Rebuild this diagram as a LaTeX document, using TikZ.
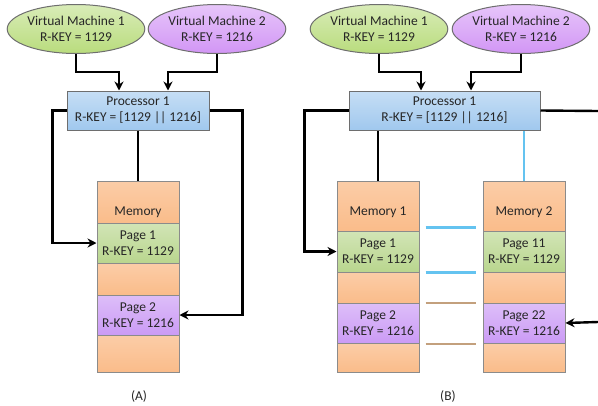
\documentclass[tikz,border=0pt]{standalone}
\usepackage{fontspec}
\setmainfont{Carlito}
\usepackage{tikz}
\usetikzlibrary{arrows.meta, positioning, shapes.geometric}
\usepackage{xcolor}

\definecolor{vmgreen}{RGB}{185,220,125}
\definecolor{vmpurple}{RGB}{210,150,245}
\definecolor{procblue}{RGB}{160,200,238}
\definecolor{memorange}{RGB}{250,188,138}
\definecolor{pagegreen}{RGB}{185,214,142}
\definecolor{pagepurple}{RGB}{203,155,245}
\definecolor{linkblue}{RGB}{100,195,240}
\definecolor{linkbrown}{RGB}{195,160,125}
\definecolor{edgegray}{RGB}{110,110,110}

\begin{document}
\begin{tikzpicture}[
    x=1pt, y=-1pt,
    >={Stealth[length=9pt,width=9pt]},
    every node/.style={font=\fontsize{13.5}{16}\selectfont, align=center, text=black!85},
    vmnode/.style={ellipse, draw=edgegray, line width=1pt, inner sep=0pt,
        minimum width=125pt, minimum height=49pt},
    procnode/.style={rectangle, draw=edgegray, line width=1pt, inner sep=0pt,
        top color=procblue!60!white, bottom color=procblue, minimum height=39pt},
    memcell/.style={rectangle, draw=edgegray!80, line width=1pt, inner sep=0pt,
        top color=memorange!75!white, bottom color=memorange, minimum width=82pt},
    pagecell/.style={memcell, minimum height=40pt},
    conn/.style={line width=2.4pt, black},
]
\useasboundingbox (0,0) rectangle (598,405);
% Panel (A)
\node[vmnode, top color=vmgreen!55!white, bottom color=vmgreen] (vmA1) at (76,29) {Virtual Machine 1\\R-KEY = 1129};
\node[vmnode, top color=vmpurple!55!white, bottom color=vmpurple] (vmA2) at (217,29) {Virtual Machine 2\\R-KEY = 1216};
\node[procnode, minimum width=142pt] (procA) at (138,110.5) {Processor 1\\R-KEY = [1129 || 1216]};
\node[memcell, minimum height=42pt, text height=29pt] (memA) at (138,202) {Memory};
\node[pagecell, top color=pagegreen!65!white, bottom color=pagegreen] (pgA1) at (138,243) {Page 1\\R-KEY = 1129};
\node[memcell, minimum height=32pt] (gapA1) at (138,279) {};
\node[pagecell, top color=pagepurple!65!white, bottom color=pagepurple] (pgA2) at (138,315) {Page 2\\R-KEY = 1216};
\node[memcell, minimum height=37pt] (gapA2) at (138,353.5) {};
\node (capA) at (139,396) {(A)};
% Arrows (A)
\draw[conn,->] (vmA1.south) -- ++(0,18) -| ([xshift=-19pt]procA.north);
\draw[conn,->] (vmA2.south) -- ++(0,18) -| ([xshift=30pt]procA.north);
\draw[conn,->] (procA.west) -- ++(-14,0) |- (pgA1.west);
\draw[conn] (procA.south) -- (memA.north);
\draw[conn,->] (procA.east) -- ++(33,0) |- (pgA2.east);

% Panel (B)
\node[vmnode, minimum width=128pt, top color=vmgreen!55!white, bottom color=vmgreen] (vmB1) at (379,29) {Virtual Machine 1\\R-KEY = 1129};
\node[vmnode, minimum width=130pt, top color=vmpurple!55!white, bottom color=vmpurple] (vmB2) at (521,29) {Virtual Machine 2\\R-KEY = 1216};
\node[procnode, minimum width=191pt] (procB) at (444.5,110.5) {Processor 1\\R-KEY = [1129 || 1216]};
\node[memcell, minimum height=50pt, text height=21pt] (memB1) at (378,206) {Memory 1};
\node[pagecell, minimum height=41pt, top color=pagegreen!65!white, bottom color=pagegreen] (pgB1) at (378,251.5) {Page 1\\R-KEY = 1129};
\node[memcell, minimum height=31pt] (gapB1) at (378,287.5) {};
\node[pagecell, top color=pagepurple!65!white, bottom color=pagepurple] (pgB2) at (378,323) {Page 2\\R-KEY = 1216};
\node[memcell, minimum height=29pt] (gapB2) at (378,357.5) {};
\node[memcell, minimum height=50pt, text height=21pt] (memB2) at (524,206) {Memory 2};
\node[pagecell, minimum height=41pt, top color=pagegreen!65!white, bottom color=pagegreen] (pgB11) at (524,251.5) {Page 11\\R-KEY = 1129};
\node[memcell, minimum height=31pt] (gapB11) at (524,287.5) {};
\node[pagecell, top color=pagepurple!65!white, bottom color=pagepurple] (pgB22) at (524,323) {Page 22\\R-KEY = 1216};
\node[memcell, minimum height=29pt] (gapB22) at (524,357.5) {};
\node (capB) at (448,396) {(B)};
\coordinate (outB) at (598,111);
\coordinate (inB) at (598,322);
% Arrows (B)
\draw[conn,->] (vmB1.south) -- ++(0,18) -| ([xshift=-23.5pt]procB.north);
\draw[conn,->] (vmB2.south) -- ++(0,18) -| ([xshift=26.5pt]procB.north);
\draw[conn,->] (procB.west) -- ++(-44,0) |- (pgB1.west);
\draw[conn] (memB1.north) -- (memB1.north |- procB.south);
\draw[linkblue, line width=1.6pt] (memB2.north) -- (memB2.north |- procB.south);
\draw[conn] (procB.east) -- (outB);
\draw[conn,->] (inB) -- (pgB22.east);
% Links between mirrored pages
\draw[linkblue, line width=2.2pt] ([xshift=6pt,yshift=3pt]pgB1.north east) -- ([xshift=-7pt,yshift=3pt]pgB11.north west);
\draw[linkblue, line width=2.2pt] ([xshift=6pt]pgB1.south east) -- ([xshift=-7pt]pgB11.south west);
\draw[linkbrown, line width=2pt] ([xshift=6pt]pgB2.north east) -- ([xshift=-7pt]pgB22.north west);
\draw[linkbrown, line width=2pt] ([xshift=6pt]pgB2.south east) -- ([xshift=-7pt]pgB22.south west);
\end{tikzpicture}
\end{document}
